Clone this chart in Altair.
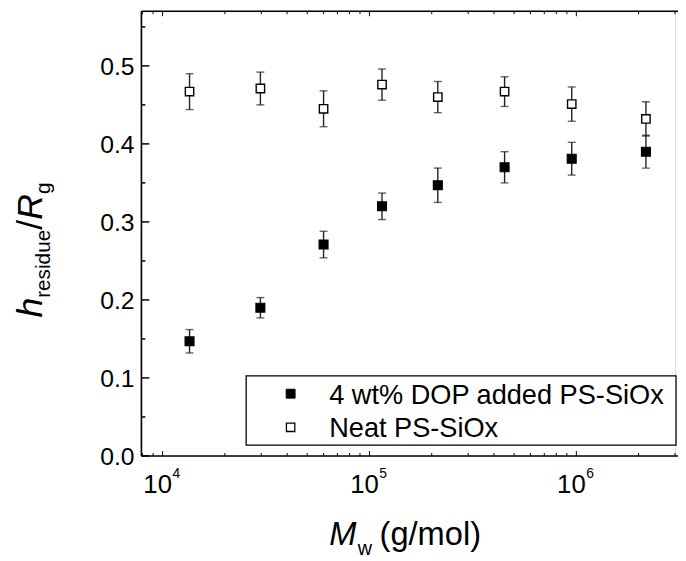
import altair as alt
import pandas as pd

# ---------------- data ----------------
mw = [1.35e4, 2.97e4, 6.0e4, 1.15e5, 2.14e5, 4.5e5, 9.5e5, 2.17e6]
dop = [0.147, 0.190, 0.271, 0.320, 0.347, 0.370, 0.381, 0.390]
dop_err = [0.015, 0.013, 0.017, 0.017, 0.022, 0.020, 0.021, 0.021]
neat = [0.467, 0.471, 0.445, 0.476, 0.460, 0.467, 0.451, 0.432]
neat_err = [0.023, 0.021, 0.023, 0.020, 0.020, 0.019, 0.022, 0.022]

series_names = ["4 wt% DOP added PS-SiOx", "Neat PS-SiOx"]
y_ticks_major = [0.0, 0.1, 0.2, 0.3, 0.4, 0.5]
y_tick_labels = ["0.0", "0.1", "0.2", "0.3", "0.4", "0.5"]
y_ticks_minor = [0.05, 0.15, 0.25, 0.35, 0.45, 0.55]
x_ticks_major = [1e4, 1e5, 1e6]
x_ticks_minor = [8e3, 9e3, 2e4, 3e4, 4e4, 5e4, 6e4, 7e4, 8e4, 9e4,
                 2e5, 3e5, 4e5, 5e5, 6e5, 7e5, 8e5, 9e5, 2e6, 3e6]
x_exponents = ["4", "5", "6"]

W, H = 540, 450
FONT = "Liberation Sans"

xs = alt.Scale(type="log", domain=[7900, 3e6], nice=False)
ys = alt.Scale(domain=[0, 0.57], nice=False, zero=False)

rows = []
for i in range(len(mw)):
    rows.append({"mw": mw[i], "v": dop[i], "lo": dop[i] - dop_err[i], "hi": dop[i] + dop_err[i], "s": series_names[0]})
    rows.append({"mw": mw[i], "v": neat[i], "lo": neat[i] - neat_err[i], "hi": neat[i] + neat_err[i], "s": series_names[1]})
df = pd.DataFrame(rows)
df_dop = df[df.s == series_names[0]]
df_neat = df[df.s == series_names[1]]

X = alt.X("mw:Q", scale=xs, axis=None)

def errbars(d):
    bar = alt.Chart(d).mark_rule(color="#222", strokeWidth=1.4).encode(
        x=X, y=alt.Y("lo:Q", scale=ys, axis=None), y2="hi:Q")
    cap_hi = alt.Chart(d).mark_tick(color="#222", orient="horizontal", size=8, thickness=1.4).encode(
        x=X, y=alt.Y("hi:Q", scale=ys, axis=None))
    cap_lo = alt.Chart(d).mark_tick(color="#222", orient="horizontal", size=8, thickness=1.4).encode(
        x=X, y=alt.Y("lo:Q", scale=ys, axis=None))
    return [bar, cap_hi, cap_lo]

neat_pts = alt.Chart(df_neat).mark_square(size=72, fill="white", stroke="black", strokeWidth=1.4, opacity=1).encode(
    x=X, y=alt.Y("v:Q", scale=ys, axis=None))
dop_pts = alt.Chart(df_dop).mark_square(size=81, fill="black", stroke="black", strokeWidth=1.2, opacity=1).encode(
    x=X, y=alt.Y("v:Q", scale=ys, axis=None))

# ---- frame lines and inward ticks ----
one = pd.DataFrame({"a": [0]})
left_line = alt.Chart(one).mark_rule(color="black", strokeWidth=1.6).encode(
    x=alt.value(0), y=alt.value(0), y2=alt.value(H))
bottom_line = alt.Chart(one).mark_rule(color="black", strokeWidth=1.6).encode(
    x=alt.value(0), x2=alt.value(W + 3), y=alt.value(H))
top_line = alt.Chart(one).mark_rule(color="black", strokeWidth=1.6).encode(
    x=alt.value(0), x2=alt.value(W + 3), y=alt.value(0))

ydf = pd.DataFrame({"t": y_ticks_major, "lab": y_tick_labels})
ydf_minor = pd.DataFrame({"t": y_ticks_minor})
YT = alt.Y("t:Q", scale=ys, axis=None)
ytick_major = alt.Chart(ydf).mark_rule(color="black", strokeWidth=1.5).encode(
    y=YT, x=alt.value(0), x2=alt.value(8))
ytick_minor = alt.Chart(ydf_minor).mark_rule(color="black", strokeWidth=1.5).encode(
    y=YT, x=alt.value(0), x2=alt.value(4))
ylabels = alt.Chart(ydf).mark_text(font=FONT, fontSize=25, align="right", baseline="middle",
                                   color="black", dy=1).encode(
    y=YT, x=alt.value(-7), text="lab:N")

xt = lambda vals: pd.DataFrame({"t": vals})
XT = alt.X("t:Q", scale=xs, axis=None)
xtick_b_major = alt.Chart(xt(x_ticks_major)).mark_rule(color="black", strokeWidth=1).encode(
    x=XT, y=alt.value(H), y2=alt.value(H - 5))
xtick_b_minor = alt.Chart(xt(x_ticks_minor)).mark_rule(color="black", strokeWidth=1).encode(
    x=XT, y=alt.value(H), y2=alt.value(H - 3))
xtick_t_major = alt.Chart(xt(x_ticks_major)).mark_rule(color="black", strokeWidth=1).encode(
    x=XT, y=alt.value(0), y2=alt.value(5))
xtick_t_minor = alt.Chart(xt(x_ticks_minor)).mark_rule(color="black", strokeWidth=1).encode(
    x=XT, y=alt.value(0), y2=alt.value(3))

# ---- x tick labels 10^n ----
xl = pd.DataFrame({"t": x_ticks_major, "e": x_exponents})
xlab_base = alt.Chart(xl).mark_text(font=FONT, fontSize=26, align="center", baseline="alphabetic",
                                    dx=-5, color="black").encode(
    x=XT, y=alt.value(H + 37), text=alt.value("10"))
xlab_exp = alt.Chart(xl).mark_text(font=FONT, fontSize=14, align="left", baseline="alphabetic",
                                   dx=10, color="black").encode(
    x=XT, y=alt.value(H + 22), text="e:N")

# ---- axis titles (composed text) ----
def txt(s, x, y, size, italic=False, angle=0, align="left"):
    return alt.Chart(one).mark_text(text=s, font=FONT, fontSize=size, fontStyle="italic" if italic else "normal",
                                    angle=angle, align=align, baseline="alphabetic", color="black").encode(
        x=alt.value(x), y=alt.value(y))

xtitle = [
    txt("M", 190, 540, 33, italic=True),
    txt("w", 219, 550, 20),
    txt("(g/mol)", 241, 540, 33),
]
ytitle = [
    txt("h", -101, 310, 36, italic=True, angle=270),
    txt("residue", -92, 290, 21, angle=270),
    txt("/", -101, 221, 36, angle=270),
    txt("R", -101, 211, 36, italic=True, angle=270),
    txt("g", -92, 185, 21, angle=270),
]

# ---- legend ----
legend_box = alt.Chart(one).mark_rect(fill="white", stroke="black", strokeWidth=1.3).encode(
    x=alt.value(106), x2=alt.value(541), y=alt.value(369), y2=alt.value(439))
leg_sym_f = alt.Chart(one).mark_square(size=81, fill="black", stroke="black", strokeWidth=1, opacity=1).encode(
    x=alt.value(151), y=alt.value(387))
leg_sym_o = alt.Chart(one).mark_square(size=72, fill="white", stroke="black", strokeWidth=1.3, opacity=1).encode(
    x=alt.value(151), y=alt.value(421))
leg_t1 = txt(series_names[0], 190, 397, 27.5)
leg_t2 = txt(series_names[1], 190, 431, 27.5)

layers = (errbars(df_neat) + errbars(df_dop) + [neat_pts, dop_pts] +
          [left_line, bottom_line, top_line, ytick_major, ytick_minor, ylabels,
           xtick_b_major, xtick_b_minor, xtick_t_major, xtick_t_minor,
           xlab_base, xlab_exp] + xtitle + ytitle + [legend_box, leg_sym_f, leg_sym_o, leg_t1, leg_t2])

chart = alt.layer(*layers).properties(
    width=W, height=H,
    autosize=alt.AutoSizeParams(type="none"),
    padding={"left": 135, "top": 0, "right": 3, "bottom": 103},
).configure_view(stroke=None).configure(background="white")

chart.save("out.html", embed_options={"renderer": "svg", "actions": False})
